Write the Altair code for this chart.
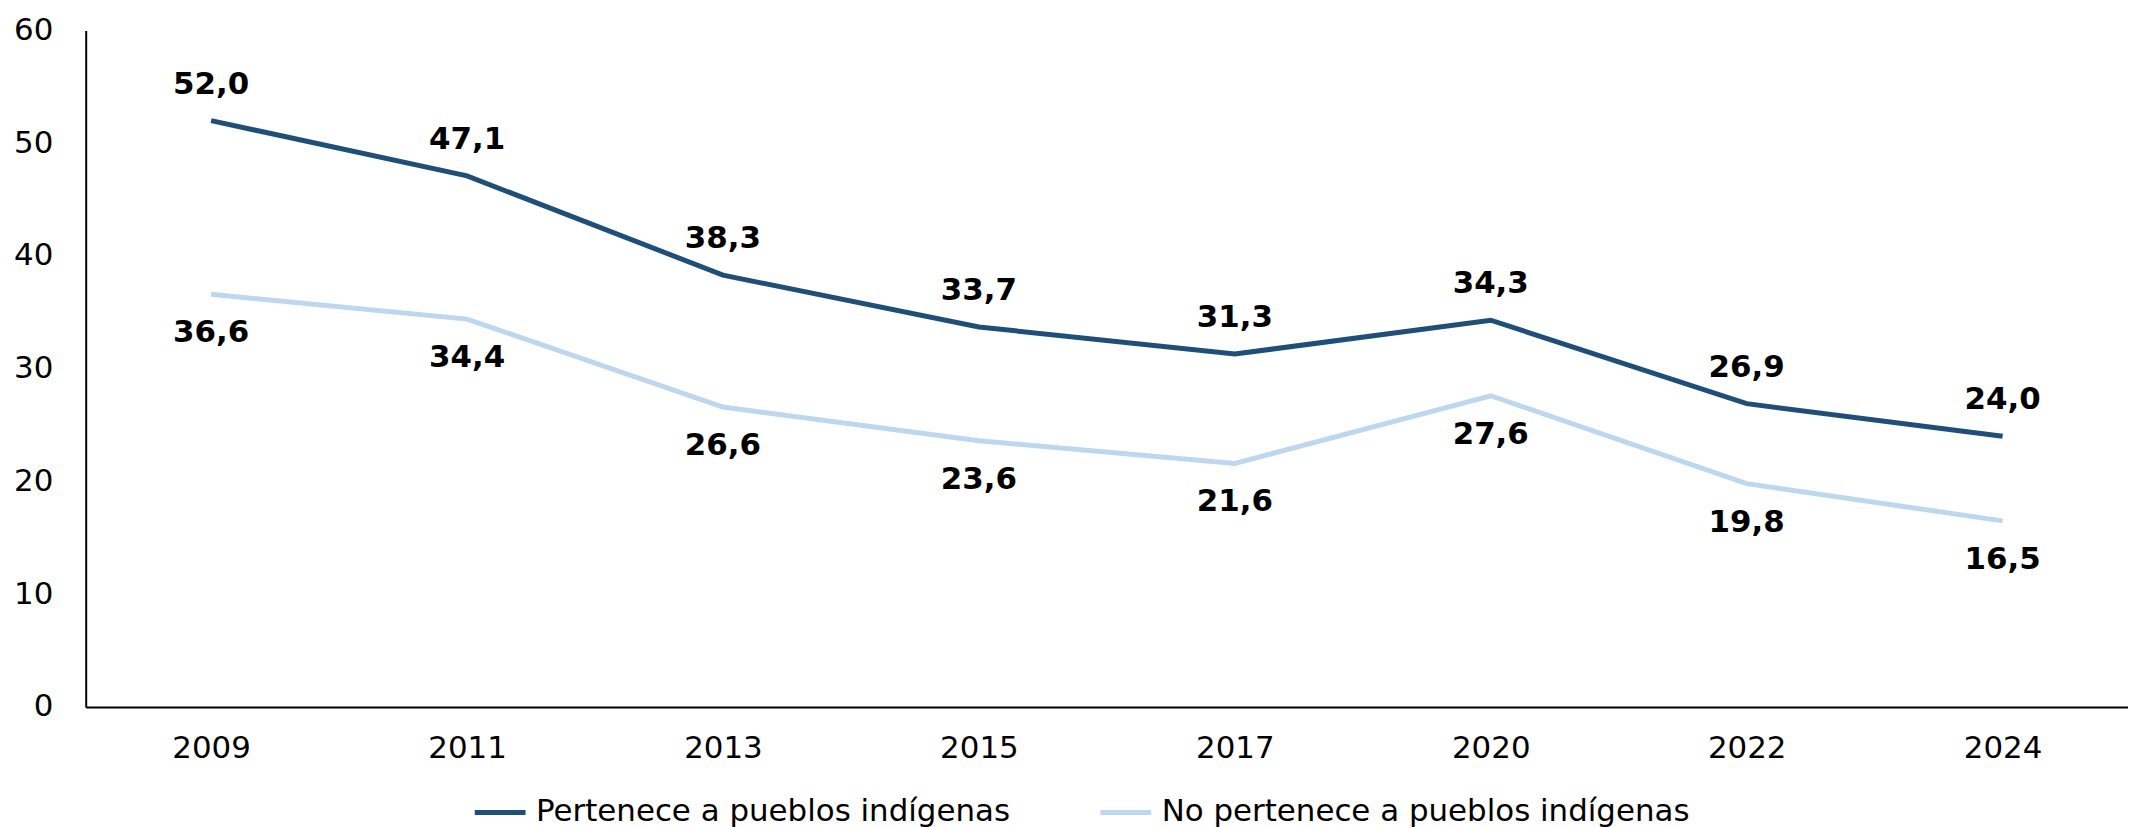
import altair as alt
import pandas as pd

years = ["2009", "2011", "2013", "2015", "2017", "2020", "2022", "2024"]
indigenous = [52.0, 47.1, 38.3, 33.7, 31.3, 34.3, 26.9, 24.0]
non_indigenous = [36.6, 34.4, 26.6, 23.6, 21.6, 27.6, 19.8, 16.5]
series_names = ["Pertenece a pueblos indígenas", "No pertenece a pueblos indígenas"]
colors = ["#1F4E79", "#BDD7EE"]

rows = []
for s, vals in zip(series_names, [indigenous, non_indigenous]):
    for y, v in zip(years, vals):
        rows.append({"year": y, "value": v, "series": s,
                     "label": f"{v:.1f}".replace(".", ",")})
df = pd.DataFrame(rows)

FONT = "DejaVu Sans"

x = alt.X("year:O", sort=years, title=None,
          scale=alt.Scale(type="point", padding=0.49),
          axis=alt.Axis(labelAngle=0, labelFontSize=31, labelFont=FONT, labelColor="#000000",
                        domainColor="#000000", domainWidth=2, ticks=False, labelPadding=27))
y = alt.Y("value:Q", title=None,
          scale=alt.Scale(domain=[0, 60]),
          axis=alt.Axis(values=[0, 10, 20, 30, 40, 50, 60], grid=False, ticks=False,
                        labelFontSize=31, labelFont=FONT, labelColor="#000000",
                        domainColor="#000000", domainWidth=2, labelPadding=33))
color = alt.Color("series:N", scale=alt.Scale(domain=series_names, range=colors),
                  sort=series_names,
                  legend=alt.Legend(title=None, orient="none", direction="horizontal",
                                    legendX=388, legendY=757, padding=0,
                                    symbolType="stroke", symbolStrokeWidth=5, symbolSize=2600,
                                    labelFontSize=31, labelFont=FONT, labelColor="#000000",
                                    columnPadding=80, labelLimit=800,
                                    labelOffset=8))

base = alt.Chart(df)
lines = base.mark_line(strokeWidth=5).encode(x=x, y=y, color=color, detail="series:N")

lab_top = base.transform_filter(alt.datum.series == series_names[0]).mark_text(
    fontSize=31, fontWeight="bold", font=FONT, color="#000000", dy=-36
).encode(x=x, y=y, text="label:N")
lab_bot = base.transform_filter(alt.datum.series == series_names[1]).mark_text(
    fontSize=31, fontWeight="bold", font=FONT, color="#000000", dy=39
).encode(x=x, y=y, text="label:N")

chart = alt.layer(lines, lab_top, lab_bot).properties(
    width=2050, height=679,
    padding={"left": 5, "top": 5, "right": 0, "bottom": 0},
    background="#ffffff"
).configure_view(stroke=None)

chart.save("out.html", embed_options={"renderer": "svg", "actions": False})
